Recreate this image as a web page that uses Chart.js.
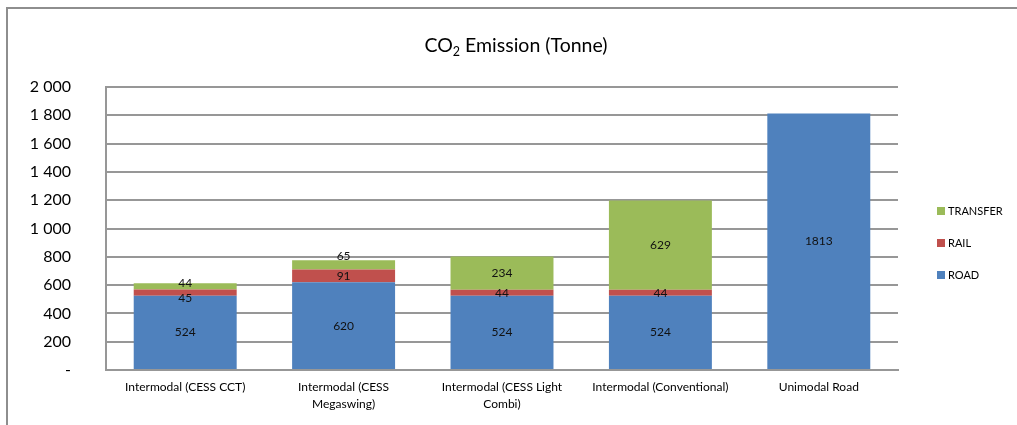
<!DOCTYPE html>
<html>
<head>
<meta charset="utf-8">
<title>CO2 Emission (Tonne)</title>
<script src="https://cdn.jsdelivr.net/npm/chart.js@4.4.1/dist/chart.umd.min.js"></script>
<style>
  html, body { margin: 0; padding: 0; background: #ffffff; }
  #wrap { width: 1017px; height: 425px; }
  canvas { display: block; }
</style>
</head>
<body>
<div id="wrap"><canvas id="chart" width="1017" height="425"></canvas></div>
<script>
// Transport chains compared
const categories = [
  ["Intermodal (CESS CCT)"],
  ["Intermodal (CESS", "Megaswing)"],
  ["Intermodal (CESS Light", "Combi)"],
  ["Intermodal (Conventional)"],
  ["Unimodal Road"]
];

// Emissions per leg, tonnes of CO2
const road     = [524, 620, 524, 524, 1813];
const rail     = [45, 91, 44, 44, 0];
const transfer = [44, 65, 234, 629, 0];

// Value axis
const yMin = 0;
const yMax = 2000;
const yStep = 200;
const yTickLabels = ["-", "200", "400", "600", "800", "1 000", "1 200", "1 400", "1 600", "1 800", "2 000"];

const FONT = "Lato, 'Open Sans', 'DejaVu Sans', sans-serif";
const GRID = "#979797";

// Chart outline (top and left edges) on a white background
const framePlugin = {
  id: "frame",
  beforeDraw(chart) {
    const c = chart.ctx;
    c.save();
    c.fillStyle = "#ffffff";
    c.fillRect(0, 0, chart.width, chart.height);
    c.strokeStyle = "#8e8e8e";
    c.lineWidth = 2;
    c.beginPath();
    c.moveTo(7, chart.height);
    c.lineTo(7, 8);
    c.lineTo(chart.width, 8);
    c.stroke();
    c.restore();
  }
};

// Title with subscript 2
const titlePlugin = {
  id: "subTitle",
  afterDraw(chart) {
    const c = chart.ctx;
    const big = "19.5px " + FONT;
    const small = "12.5px " + FONT;
    const p1 = "CO", p2 = "2", p3 = " Emission (Tonne)";
    c.save();
    c.fillStyle = "#000000";
    c.textBaseline = "alphabetic";
    c.textAlign = "left";
    c.font = big;
    const w1 = c.measureText(p1).width;
    const w3 = c.measureText(p3).width;
    c.font = small;
    const w2 = c.measureText(p2).width;
    let x = 516 - (w1 + w2 + w3) / 2;
    const base = 52;
    c.font = big;
    c.fillText(p1, x, base);
    x += w1;
    c.font = small;
    c.fillText(p2, x, base + 4);
    x += w2;
    c.font = big;
    c.fillText(p3, x, base);
    c.restore();
  }
};

// Legend at the right, top series first
const legendPlugin = {
  id: "sideLegend",
  afterDraw(chart) {
    const c = chart.ctx;
    const sets = chart.data.datasets.slice().reverse();
    c.save();
    c.font = "11px " + FONT;
    c.textBaseline = "middle";
    c.textAlign = "left";
    sets.forEach((ds, i) => {
      const y = 211 + i * 32;
      c.fillStyle = ds.backgroundColor;
      c.fillRect(937, y - 4, 8, 8);
      c.fillStyle = "#000000";
      c.fillText(ds.label, 948, y + 0.5);
    });
    c.restore();
  }
};

// Value labels centred in each segment
const valueLabelPlugin = {
  id: "valueLabels",
  afterDatasetsDraw(chart, args, opts) {
    const c = chart.ctx;
    const nudge = opts.nudge || {};
    c.save();
    c.font = "12px " + FONT;
    c.fillStyle = "#111111";
    c.textAlign = "center";
    c.textBaseline = "middle";
    chart.data.datasets.forEach((ds, di) => {
      const meta = chart.getDatasetMeta(di);
      meta.data.forEach((bar, j) => {
        const v = ds.data[j];
        if (!v) return;
        const p = bar.getProps(["x", "y", "base"], true);
        const dy = nudge[di + ":" + j] || 0;
        c.fillText(String(v), p.x, (p.y + p.base) / 2 + dy);
      });
    });
    c.restore();
  }
};

new Chart(document.getElementById("chart"), {
  type: "bar",
  data: {
    labels: categories,
    datasets: [
      { label: "ROAD", data: road, backgroundColor: "#4f81bd" },
      { label: "RAIL", data: rail, backgroundColor: "#c0504d" },
      { label: "TRANSFER", data: transfer, backgroundColor: "#9bbb59" }
    ]
  },
  options: {
    responsive: false,
    animation: false,
    devicePixelRatio: 1,
    layout: { padding: { left: 0, right: 119, top: 87, bottom: 0 } },
    datasets: {
      bar: { barPercentage: 0.65, categoryPercentage: 1.0, borderWidth: 0 }
    },
    plugins: {
      legend: { display: false },
      title: { display: false },
      tooltip: { enabled: false },
      valueLabels: { nudge: { "1:0": 5.5, "2:0": -3, "2:1": -9 } }
    },
    scales: {
      x: {
        stacked: true,
        grid: { display: false, drawTicks: false },
        border: { display: true, color: GRID, width: 2 },
        ticks: {
          color: "#000000",
          font: { family: FONT, size: 12, lineHeight: 1.45 },
          padding: 8,
          maxRotation: 0,
          autoSkip: false
        },
        afterFit(scale) { scale.height = 55; }
      },
      y: {
        stacked: true,
        min: yMin,
        max: yMax,
        grid: { color: GRID, lineWidth: 2, drawTicks: false },
        border: { display: true, color: GRID, width: 2 },
        ticks: {
          stepSize: yStep,
          color: "#000000",
          font: { family: FONT, size: 16 },
          padding: 35,
          callback: (value, index) => yTickLabels[index]
        },
        afterFit(scale) { scale.width = 106; }
      }
    }
  },
  plugins: [framePlugin, valueLabelPlugin, titlePlugin, legendPlugin]
});
</script>
</body>
</html>
